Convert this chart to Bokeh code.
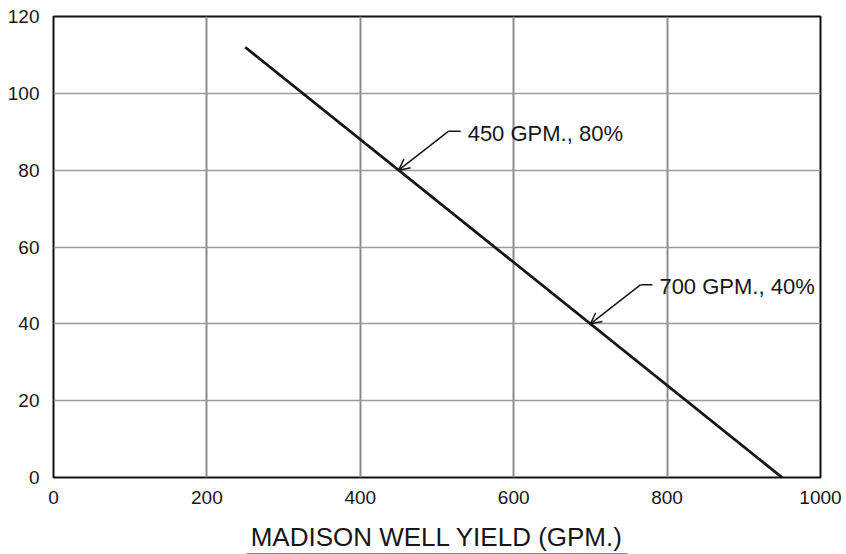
from bokeh.plotting import figure
from bokeh.models import Label, Arrow, OpenHead, Range1d, LinearAxis
from bokeh.embed import file_html
from bokeh.resources import INLINE

# ---- data ----
yield_gpm = [250, 950]
percent = [112, 0]
ann_gpm = [450, 700]
ann_pct = [80, 40]
ann_text = ["450 GPM., 80%", "700 GPM., 40%"]
x_ticks = [0, 200, 400, 600, 800, 1000]
y_ticks = [0, 20, 40, 60, 80, 100, 120]
x_title = "MADISON WELL YIELD (GPM.)"

# ---- layout ----
W, H = 846, 554
FL, FT, FR, FB = 53, 16, 26, 77
FW, FH = W - FL - FR, H - FT - FB
FONT = "Liberation Sans"
INK = "#161616"

p = figure(width=W, height=H, output_backend="svg", toolbar_location=None,
           x_range=Range1d(0, 1000), y_range=Range1d(0, 120),
           min_border_left=FL, min_border_top=FT,
           min_border_right=FR, min_border_bottom=FB)
p.background_fill_color = "white"
p.border_fill_color = "white"
p.outline_line_color = "#111111"
p.outline_line_width = 2

for ax in (p.xaxis, p.yaxis):
    ax.axis_line_color = None
    ax.major_tick_line_color = None
    ax.minor_tick_line_color = None
    ax.major_label_text_font = FONT
    ax.major_label_text_font_size = "19px"
    ax.major_label_text_color = INK
p.xaxis.ticker = x_ticks
p.yaxis.ticker = y_ticks
p.xaxis.major_label_standoff = 7
p.yaxis.major_label_standoff = 8

p.xaxis.axis_label = x_title
p.xaxis.axis_label_text_font = FONT
p.xaxis.axis_label_text_font_size = "26px"
p.xaxis.axis_label_text_font_style = "normal"
p.xaxis.axis_label_text_color = INK
p.xaxis.axis_label_standoff = 15

# underline for the axis title: a bounded axis line with nothing else
ul = LinearAxis(bounds=(252, 748), ticker=[], axis_line_color=INK, axis_line_width=2,
                major_tick_line_color=None, minor_tick_line_color=None,
                major_label_text_font_size="0px", major_label_standoff=0)
p.add_layout(ul, "below")

p.xgrid.ticker = x_ticks
p.ygrid.ticker = y_ticks
p.xgrid.grid_line_color = "#8c8c8c"
p.xgrid.grid_line_width = 2
p.ygrid.grid_line_color = "#9a9a9a"
p.ygrid.grid_line_width = 1.5

p.line(yield_gpm, percent, line_color=INK, line_width=2.8)

ppx = FW / 1000.0
ppy = FH / 120.0
for gx, gy, t in zip(ann_gpm, ann_pct, ann_text):
    ex, ey = gx + 50 / ppx, gy + 39 / ppy
    hx = gx + 62 / ppx
    p.line([ex, hx], [ey, ey], line_color=INK, line_width=1.5)
    p.add_layout(Arrow(end=OpenHead(size=11, line_width=1.5, line_color=INK),
                       x_start=ex, y_start=ey, x_end=gx, y_end=gy,
                       line_color=INK, line_width=1.5))
    p.add_layout(Label(x=gx, y=gy, x_offset=69, y_offset=37, text=t,
                       text_baseline="middle", text_align="left",
                       text_font=FONT, text_font_size="22px", text_color=INK))

open("out.html", "w").write(file_html(p, INLINE))
